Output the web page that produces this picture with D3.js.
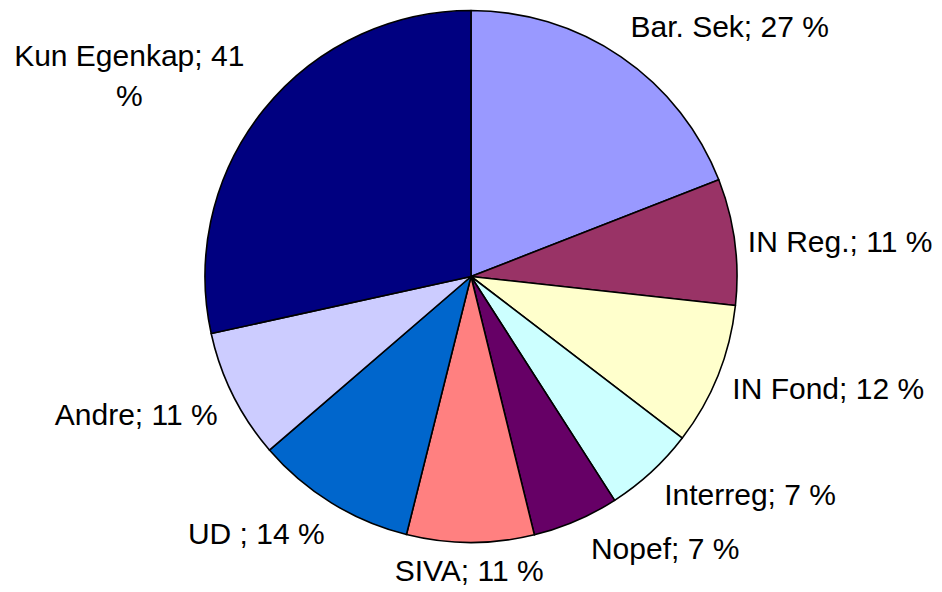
<!DOCTYPE html>
<html>
<head>
<meta charset="utf-8">
<script src="https://cdn.jsdelivr.net/npm/d3@7"></script>
<style>
html,body{margin:0;padding:0;background:#fff;}
svg{display:block;}
text{font-family:"Liberation Sans",Arial,sans-serif;fill:#000;}
</style>
</head>
<body>
<svg id="chart" width="942" height="592"></svg>
<script>
// ---- data ----
const categories = ["Bar. Sek","IN Reg.","IN Fond","Interreg","Nopef","SIVA","UD ","Andre","Kun Egenkap"];
// percentages shown in the labels
const labelPercents = [27, 11, 12, 7, 7, 11, 14, 11, 41];
// slice sizes
const sliceValues = [26.9, 10.8, 12.2, 7.8, 7.4, 10.9, 13.8, 11.1, 40.1];
const colors = ["#9999FF","#993366","#FFFFCC","#CCFFFF","#660066","#FF8080","#0066CC","#CCCCFF","#000080"];

// ---- layout ----
const W = 942, H = 592;
const cx = 471, cy = 276.5, R = 266;
const fontSize = 30;
// small nudges to mimic the original label placement
const labelNudge = [[47,-13],[4,2.5],[12,5],[34,7],[56,8],[-1,7],[-34,13],[-15,10],[-37,-9]];
const labelWrapWidth = 240;

const svg = d3.select("#chart");
const g = svg.append("g").attr("transform", `translate(${cx},${cy})`);

const data = categories.map((c,i)=>({name:c, value:sliceValues[i], pct:labelPercents[i], color:colors[i], i}));
const pie = d3.pie().sort(null).value(d=>d.value).startAngle(0).endAngle(2*Math.PI);
const arcs = pie(data);
const arc = d3.arc().innerRadius(0).outerRadius(R);

g.selectAll("path.slice").data(arcs).join("path")
  .attr("class","slice")
  .attr("d", arc)
  .attr("fill", d=>d.data.color)
  .attr("stroke","#000")
  .attr("stroke-width",1.6)
  .attr("stroke-linejoin","round");

// labels
const labels = svg.append("g");
arcs.forEach(a=>{
  const mid = (a.startAngle + a.endAngle)/2;
  const s = Math.sin(mid), c = Math.cos(mid);
  const px = cx + (R+10)*s, py = cy - (R+10)*c;
  const txt = `${a.data.name}; ${a.data.pct} %`;
  const t = labels.append("text")
    .attr("font-size", fontSize)
    .attr("text-anchor","middle");
  t.text(txt);
  let w = t.node().getComputedTextLength();
  let lines = [txt];
  if (w > labelWrapWidth) {
    lines = [`${a.data.name}; ${a.data.pct}`, "%"];
  }
  t.text(null);
  const lineGap = 40;
  const capH = fontSize*0.716;
  const widths = lines.map(l=>{ t.text(l); return t.node().getComputedTextLength(); });
  t.text(null);
  const bw = Math.max(...widths);
  const bh = capH + (lines.length-1)*lineGap;
  const n = labelNudge[a.data.i];
  const centerX = px + s*bw/2 + n[0];
  const centerY = py - c*bh/2 + n[1];
  const top = centerY - bh/2;
  lines.forEach((l,k)=>{
    t.append("tspan").attr("x", centerX).attr("y", top + capH + k*lineGap).text(l);
  });
});
</script>
</body>
</html>
